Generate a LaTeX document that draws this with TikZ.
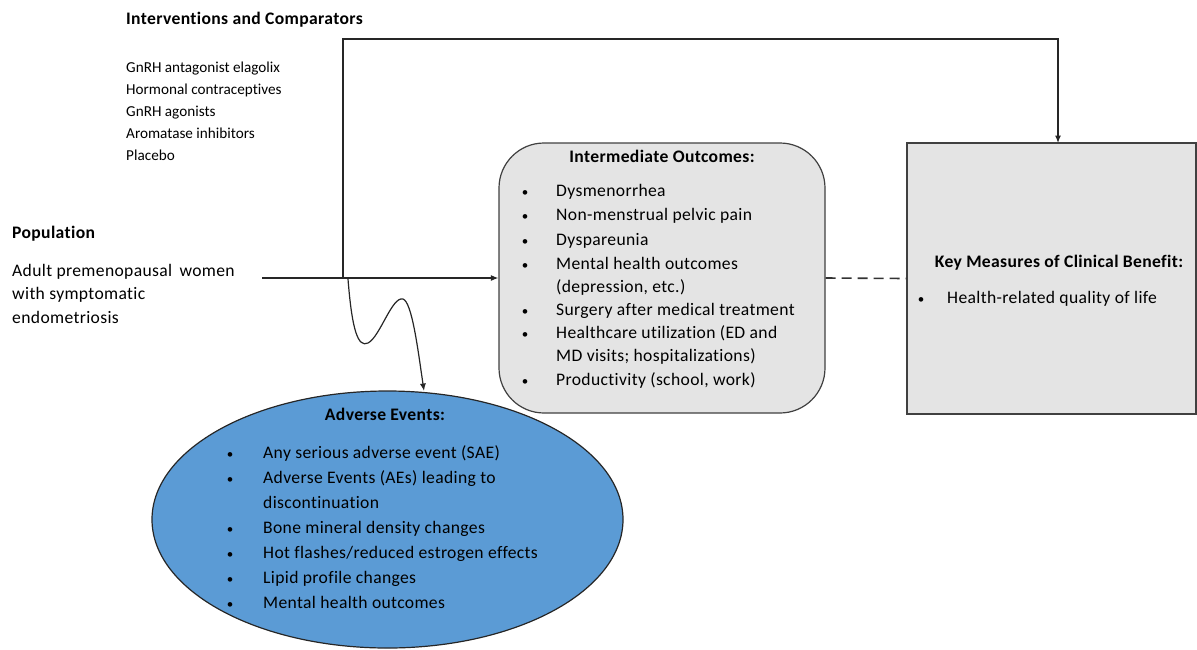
\documentclass[tikz,border=0pt]{standalone}
\usepackage{fontspec}
\setmainfont{Carlito}[Ligatures=NoCommon]
\newfontfamily\wide{Carlito}[Ligatures=NoCommon,LetterSpace=2]
\usetikzlibrary{shapes.geometric,arrows.meta}
\definecolor{boxgray}{HTML}{E4E4E4}
\definecolor{aeblue}{HTML}{5B9BD5}
\begin{document}
\begin{tikzpicture}[x=1pt,y=-1pt,
  plain/.style={anchor=base west,inner sep=0pt,font=\fontsize{15.2}{18}\selectfont},
  txt/.style={anchor=base west,inner sep=0pt,font=\fontsize{17.6}{20}\selectfont\wide},
  ttl/.style={anchor=base,inner sep=0pt,font=\fontsize{17.6}{20}\selectfont\wide\bfseries},
  bul/.style={anchor=base,inner sep=0pt,font=\fontsize{13}{17}\selectfont},
  conn/.style={line width=1.2pt,black!85},
  tip/.style={-{Latex[length=7.5pt,width=6pt]}}]
\useasboundingbox (0,0) rectangle (1197,649);

% shapes
\node[draw=black!75,line width=1.2pt,fill=boxgray,rounded corners=45pt,
  minimum width=326pt,minimum height=270pt,inner sep=0pt] (ib) at (662,278) {};
\node[draw=black!75,line width=1.2pt,fill=boxgray,
  minimum width=289pt,minimum height=271pt,inner sep=0pt] (km) at (1051.5,278.5) {};
\node[draw=black!85,line width=1.2pt,fill=aeblue,ellipse,
  minimum width=471pt,minimum height=257pt,inner sep=0pt] (ae) at (387.5,519.5) {};

% interventions
\node[ttl,anchor=base west] (it) at (126,24) {Interventions and Comparators};
\node[plain] (i1) at (126,72) {GnRH antagonist elagolix};
\node[plain] (i2) at (126,94) {Hormonal contraceptives};
\node[plain] (i3) at (126,116) {GnRH agonists};
\node[plain] (i4) at (126,138) {Aromatase inhibitors};
\node[plain] (i5) at (126,160) {Placebo};

% population
\node[ttl,anchor=base west] (pt) at (12,238) {Population};
\node[txt] (p1) at (12,276) {Adult premenopausal\ \,women};
\node[txt] (p2) at (12,299) {with symptomatic};
\node[txt] (p3) at (12,323) {endometriosis};

% intermediate outcomes
\node[ttl] (ibt) at (662,162) {Intermediate Outcomes:};
\foreach \n/\y/\b/\t in {1/196/1/{Dysmenorrhea},
  2/220/1/{Non-menstrual pelvic pain},
  3/245/1/{Dyspareunia},
  4/269/1/{Mental health outcomes},
  5/292/0/{(depression, etc.)},
  6/315/1/{Surgery after medical treatment},
  7/338/1/{Healthcare utilization (ED and},
  8/361/0/{MD visits; hospitalizations)},
  9/385/1/{Productivity (school, work)}}{
  \node[txt] (ibl\n) at (556,\y) {\t};
  \ifnum\b=1 \node[bul] (ibb\n) at (525,\y) {•};\fi
}

% key measures
\node[ttl] (kmt) at (1059,267) {Key Measures of Clinical Benefit:};
\node[bul] (kmb1) at (921,303) {•};
\node[txt] (kml1) at (947,303) {Health-related quality of life};

% adverse events
\node[ttl] (aet) at (385,420) {Adverse Events:};
\foreach \n/\y/\b/\t in {1/458/1/{Any serious adverse event (SAE)},
  2/483/1/{Adverse Events (AEs) leading to},
  3/508/0/{discontinuation},
  4/533/1/{Bone mineral density changes},
  5/558/1/{Hot flashes/reduced estrogen effects},
  6/583/1/{Lipid profile changes},
  7/608/1/{Mental health outcomes}}{
  \node[txt] (ael\n) at (263,\y) {\t};
  \ifnum\b=1 \node[bul] (aeb\n) at (230,\y) {•};\fi
}

% connectors
\coordinate (pstart) at (262,278);
\coordinate (split) at (343,278);
\coordinate (wave) at (348,279);
\draw[conn,tip] (pstart) -- (ib.west);
\draw[conn,tip] (split) |- (1058,39) -- (1058,143);
\draw[conn,line width=1.6pt,black!80,dash pattern=on 10pt off 6pt] (ib.east) -- (km.west);
\draw[conn,tip] (wave) .. controls (352,330) and (358,348) .. (368,343)
  .. controls (380,337) and (392,296) .. (403,299)
  .. controls (412,302) and (418,350) .. (424,391);
\end{tikzpicture}
\end{document}
